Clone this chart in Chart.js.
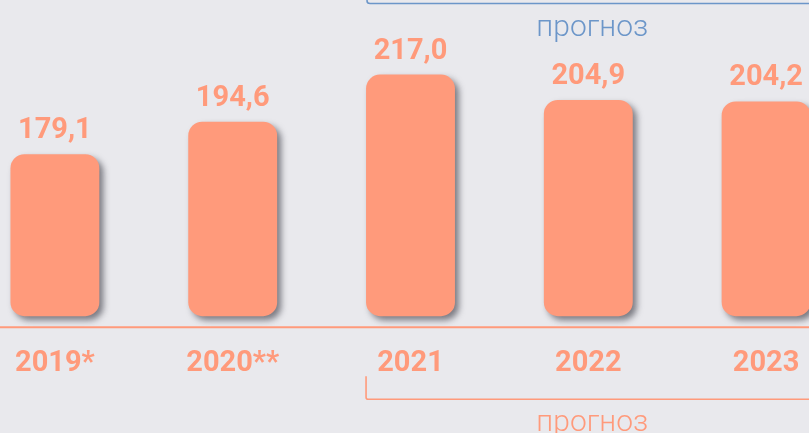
<!DOCTYPE html>
<html>
<head>
<meta charset="utf-8">
<script src="https://cdn.jsdelivr.net/npm/chart.js@4.4.1/dist/chart.umd.min.js"></script>
<style>
  html, body { margin: 0; padding: 0; background: #E9E9ED; overflow: hidden; width: 809px; height: 433px; }
  #wrap { position: absolute; left: -34px; top: 0; width: 889px; height: 433px; }
</style>
</head>
<body>
<div id="wrap"><canvas id="c" width="889" height="433"></canvas></div>
<script>
const categories = ["2019*", "2020**", "2021", "2022", "2023"];
const values = [179.1, 194.6, 217.0, 204.9, 204.2];
const valueLabels = ["179,1", "194,6", "217,0", "204,9", "204,2"];
const forecastLabel = "прогноз";
const forecastStartIndex = 2;
const yMin = 102;
const yMax = 252.5;

const SALMON = "#FF9A7B";
const BLUE = "#6C96C9";

const shadowPlugin = {
  id: "barShadow",
  beforeDatasetDraw(chart) {
    const ctx = chart.ctx;
    ctx.save();
    ctx.shadowColor = "rgba(50,50,60,0.6)";
    ctx.shadowBlur = 6;
    ctx.shadowOffsetX = 4;
    ctx.shadowOffsetY = 4;
  },
  afterDatasetDraw(chart) {
    chart.ctx.restore();
  }
};

const decorPlugin = {
  id: "decor",
  afterDatasetsDraw(chart) {
    const ctx = chart.ctx;
    const meta = chart.getDatasetMeta(0);
    const W = chart.width;
    // value labels
    ctx.save();
    ctx.fillStyle = SALMON;
    ctx.font = "bold 29px Roboto";
    ctx.textAlign = "center";
    ctx.textBaseline = "alphabetic";
    meta.data.forEach((bar, i) => {
      ctx.fillText(valueLabels[i], bar.x, bar.y - 16);
    });
    ctx.restore();

    // axis line
    const area = chart.chartArea;
    ctx.save();
    ctx.strokeStyle = SALMON;
    ctx.lineWidth = 2;
    ctx.beginPath();
    ctx.moveTo(0, area.bottom + 11);
    ctx.lineTo(W, area.bottom + 11);
    ctx.stroke();
    ctx.restore();

    // forecast brackets
    const fb = meta.data[forecastStartIndex];
    const left = fb.x - fb.width / 2 + 1;
    const centerX = (meta.data[3].x);
    ctx.save();
    // top bracket (blue)
    ctx.strokeStyle = BLUE;
    ctx.lineWidth = 1.6;
    ctx.beginPath();
    ctx.moveTo(left, -5);
    ctx.lineTo(left, 1);
    ctx.quadraticCurveTo(left, 3.5, left + 3, 3.5);
    ctx.lineTo(W, 3.5);
    ctx.stroke();
    ctx.fillStyle = BLUE;
    ctx.font = "300 30px Roboto";
    ctx.textAlign = "center";
    ctx.textBaseline = "alphabetic";
    ctx.fillText(forecastLabel, centerX + 4, 36);

    // bottom bracket (salmon)
    ctx.strokeStyle = SALMON;
    ctx.lineWidth = 1.6;
    ctx.beginPath();
    ctx.moveTo(left - 1, area.bottom + 60);
    ctx.lineTo(left - 1, area.bottom + 81);
    ctx.quadraticCurveTo(left - 1, area.bottom + 83, left + 1, area.bottom + 83);
    ctx.lineTo(W, area.bottom + 83);
    ctx.stroke();
    ctx.fillStyle = SALMON;
    ctx.fillText(forecastLabel, centerX + 4, 431);
    ctx.restore();
  }
};

new Chart(document.getElementById("c"), {
  type: "bar",
  data: {
    labels: categories,
    datasets: [{
      data: values,
      base: yMin,
      backgroundColor: SALMON,
      borderRadius: 14,
      borderSkipped: false,
      barPercentage: 0.5,
      categoryPercentage: 1.0,
      clip: false
    }]
  },
  options: {
    responsive: false,
    animation: false,
    events: [],
    layout: { padding: { left: 0, right: 0, top: 0, bottom: 22 } },
    plugins: { legend: { display: false }, tooltip: { enabled: false } },
    scales: {
      x: {
        grid: { display: false, drawTicks: false },
        border: { display: false },
        ticks: {
          color: SALMON,
          font: { family: "Roboto", size: 29, weight: "bold" },
          padding: 30,
          maxRotation: 0,
          autoSkip: false
        }
      },
      y: {
        display: false,
        min: yMin,
        max: yMax
      }
    }
  },
  plugins: [shadowPlugin, decorPlugin]
});
</script>
</body>
</html>
